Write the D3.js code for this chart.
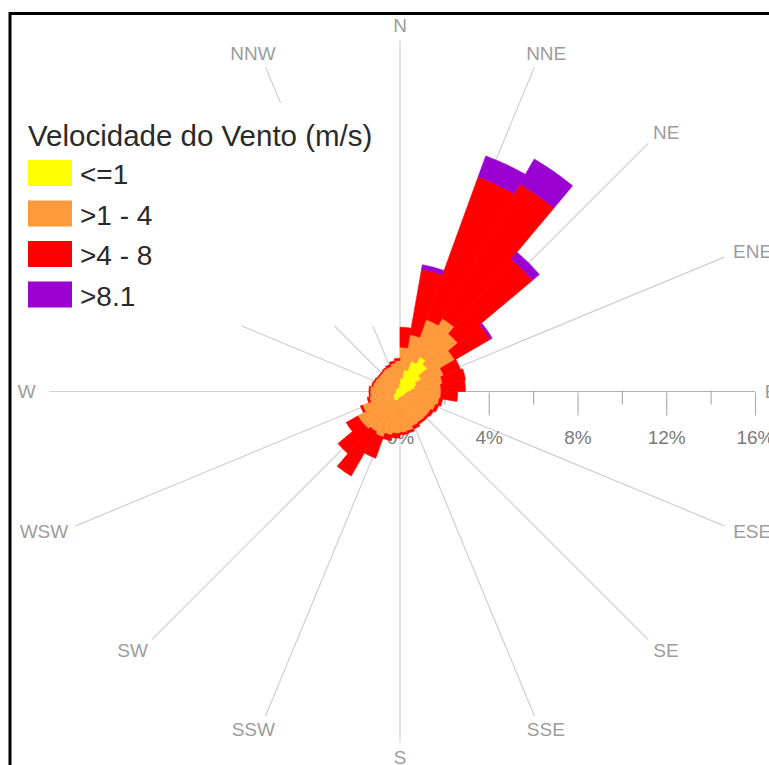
<!DOCTYPE html>
<html>
<head>
<meta charset="utf-8">
<script src="https://cdn.jsdelivr.net/npm/d3@7"></script>
<style>
  html, body { margin: 0; padding: 0; background: #fff; overflow: hidden; }
  text { font-family: "Liberation Sans", Arial, sans-serif; }
</style>
</head>
<body>
<svg id="chart" width="769" height="765"></svg>
<script>
// Wind direction sectors (degrees from north, start of each 10° bin)
const sectorStart = [0, 10, 20, 30, 40, 50, 60, 70, 80, 90, 100, 110,
                     120, 130, 140, 150, 160, 170, 180, 190, 200, 210, 220, 230,
                     240, 250, 260, 270, 280, 290, 300, 310, 320, 330, 340, 350];

// Frequency (%) of each wind speed class per sector
const freqUpTo1 = [0.6, 1.0, 1.45, 1.8, 1.6, 1.1, 0.8, 0.7, 0.5, 0.35, 0.3, 0.25,
                   0.25, 0.25, 0.25, 0.25, 0.25, 0.25, 0.3, 0.4, 0.45, 0.45, 0.4, 0.35,
                   0.3, 0.2, 0.2, 0.2, 0.2, 0.2, 0.2, 0.2, 0.2, 0.2, 0.2, 0.35];
const freq1to4  = [1.4, 1.6, 2.0, 2.0, 1.8, 1.75, 1.3, 1.25, 1.35, 1.5, 1.5, 1.45,
                   1.35, 1.35, 1.35, 1.4, 1.55, 1.6, 1.6, 1.6, 1.75, 1.65, 1.8, 1.85,
                   1.5, 1.2, 1.15, 1.15, 1.05, 1.0, 0.95, 0.95, 1.0, 1.0, 1.1, 1.05];
const freq4to8  = [0.9, 3.0, 6.85, 7.0, 4.4, 1.85, 0.8, 1.05, 1.1, 0.75, 0.15, 0.15,
                   0.15, 0.1, 0.1, 0.15, 0.1, 0.1, 0.2, 0.25, 1.0, 2.3, 1.45, 0.6,
                   0.1, 0.1, 0.05, 0.05, 0.05, 0.05, 0.05, 0.05, 0.05, 0.1, 0.1, 0.1];
const freqAbove8 = [0, 0.2, 1.0, 1.3, 0.4, 0.1, 0, 0, 0, 0, 0, 0,
                    0, 0, 0, 0, 0, 0, 0, 0, 0, 0, 0, 0,
                    0, 0, 0, 0, 0, 0, 0, 0, 0, 0, 0, 0];

const speedClasses = ["<=1", ">1 - 4", ">4 - 8", ">8.1"];
const classColors  = ["#ffff00", "#ff9a3c", "#ff0000", "#9a00d2"];

const compassLabels = ["N", "NNE", "NE", "ENE", "E", "ESE", "SE", "SSE",
                       "S", "SSW", "SW", "WSW", "W", "WNW", "NW", "NNW"];

const majorTicks = [0, 4, 8, 12, 16];
const minorTicks = [2, 6, 10, 14];
const legendTitle = "Velocidade do Vento (m/s)";

// ---- layout ----
const svg = d3.select("#chart");
const cx = 400, cy = 391.5;
const r = d3.scaleLinear().domain([0, 16]).range([0, 355]);
const spokeLen = 351;
const legendBox = { x: 13, y: 103, w: 378, h: 223 };

// outer frame
svg.append("rect")
  .attr("x", 10).attr("y", 13.5)
  .attr("width", 900).attr("height", 900)
  .attr("fill", "#fff").attr("stroke", "#000").attr("stroke-width", 3);

const g = svg.append("g").attr("transform", `translate(${cx},${cy})`);

// compass spokes
const spokeAngle = i => i * 22.5 * Math.PI / 180;
g.selectAll("line.spoke")
  .data(compassLabels.filter(d => d !== "E"))
  .join("line")
  .attr("class", "spoke")
  .attr("x1", 0).attr("y1", 0)
  .attr("x2", d => spokeLen * Math.sin(spokeAngle(compassLabels.indexOf(d))))
  .attr("y2", d => -spokeLen * Math.cos(spokeAngle(compassLabels.indexOf(d))))
  .attr("stroke", "#d0d0d0").attr("stroke-width", 1.2);

// compass labels: pushed sideways by part of their width so they sit beyond the spoke ends
const labelR = 366;
g.selectAll("text.dir")
  .data(compassLabels)
  .join("text")
  .attr("class", "dir")
  .attr("font-size", 19)
  .attr("fill", "#9c9c9c")
  .attr("text-anchor", "middle")
  .attr("dominant-baseline", "central")
  .text(d => d)
  .each(function(d, i) {
    const a = spokeAngle(i);
    const w = this.getComputedTextLength();
    const x = Math.sin(a) * (labelR + w * 0.4);
    const y = -Math.cos(a) * labelR;
    const sel = d3.select(this).attr("x", x).attr("y", y);
    // labels that fall under the legend panel are not shown
    const px = cx + x, py = cy + y;
    if (px > legendBox.x && px < legendBox.x + legendBox.w &&
        py > legendBox.y && py < legendBox.y + legendBox.h) sel.remove();
  });

// radial scale axis along the east spoke
const axisG = g.append("g");
axisG.append("line")
  .attr("x1", 0).attr("x2", r(16)).attr("y1", 0).attr("y2", 0)
  .attr("stroke", "#b0b0b0").attr("stroke-width", 1.2);

const majorAxis = d3.axisBottom(r)
  .tickValues(majorTicks)
  .tickSize(23)
  .tickSizeOuter(0)
  .tickPadding(15)
  .tickFormat(d => d + "%");
const mg = axisG.append("g").attr("transform", "translate(0,1)").call(majorAxis);
mg.select(".domain").remove();
mg.selectAll("line").attr("stroke", "#b0b0b0").attr("stroke-width", 1.2);
mg.selectAll("text")
  .attr("font-size", 19)
  .attr("font-family", "\"Liberation Sans\", Arial, sans-serif")
  .attr("fill", "#7a7a7a");

const minorAxis = d3.axisBottom(r)
  .tickValues(minorTicks)
  .tickSize(14)
  .tickSizeOuter(0)
  .tickFormat("");
const ng = axisG.append("g").attr("transform", "translate(0,-1)").call(minorAxis);
ng.select(".domain").remove();
ng.selectAll("line").attr("stroke", "#b0b0b0").attr("stroke-width", 1.2);

// stacked wind rose
const table = sectorStart.map((s, i) => ({
  start: s,
  c0: freqUpTo1[i], c1: freq1to4[i], c2: freq4to8[i], c3: freqAbove8[i]
}));
const keys = ["c0", "c1", "c2", "c3"];
const stacked = d3.stack().keys(keys)(table);

const arc = d3.arc()
  .innerRadius(d => r(d[0]))
  .outerRadius(d => r(d[1]))
  .startAngle(d => d.data.start * Math.PI / 180)
  .endAngle(d => (d.data.start + 10) * Math.PI / 180);

g.selectAll("g.layer")
  .data(stacked)
  .join("g")
  .attr("class", "layer")
  .attr("fill", (d, i) => classColors[i])
  .attr("stroke", (d, i) => classColors[i])
  .attr("stroke-width", 0.6)
  .selectAll("path")
  .data(d => d.filter(p => p[1] > p[0]))
  .join("path")
  .attr("d", arc);

// legend
const lg = svg.append("g");
lg.append("rect")
  .attr("x", legendBox.x).attr("y", legendBox.y)
  .attr("width", legendBox.w).attr("height", legendBox.h)
  .attr("fill", "#fff");
lg.append("text")
  .attr("x", 28).attr("y", 146)
  .attr("font-size", 29.5)
  .attr("fill", "#2a2a2a")
  .text(legendTitle);
const item = lg.selectAll("g.item")
  .data(speedClasses)
  .join("g")
  .attr("class", "item")
  .attr("transform", (d, i) => `translate(28,${160 + i * 40.5})`);
item.append("rect")
  .attr("width", 44).attr("height", 26)
  .attr("fill", (d, i) => classColors[i]);
item.append("text")
  .attr("x", 52).attr("y", 24)
  .attr("font-size", 28)
  .attr("fill", "#2a2a2a")
  .text(d => d);
</script>
</body>
</html>
